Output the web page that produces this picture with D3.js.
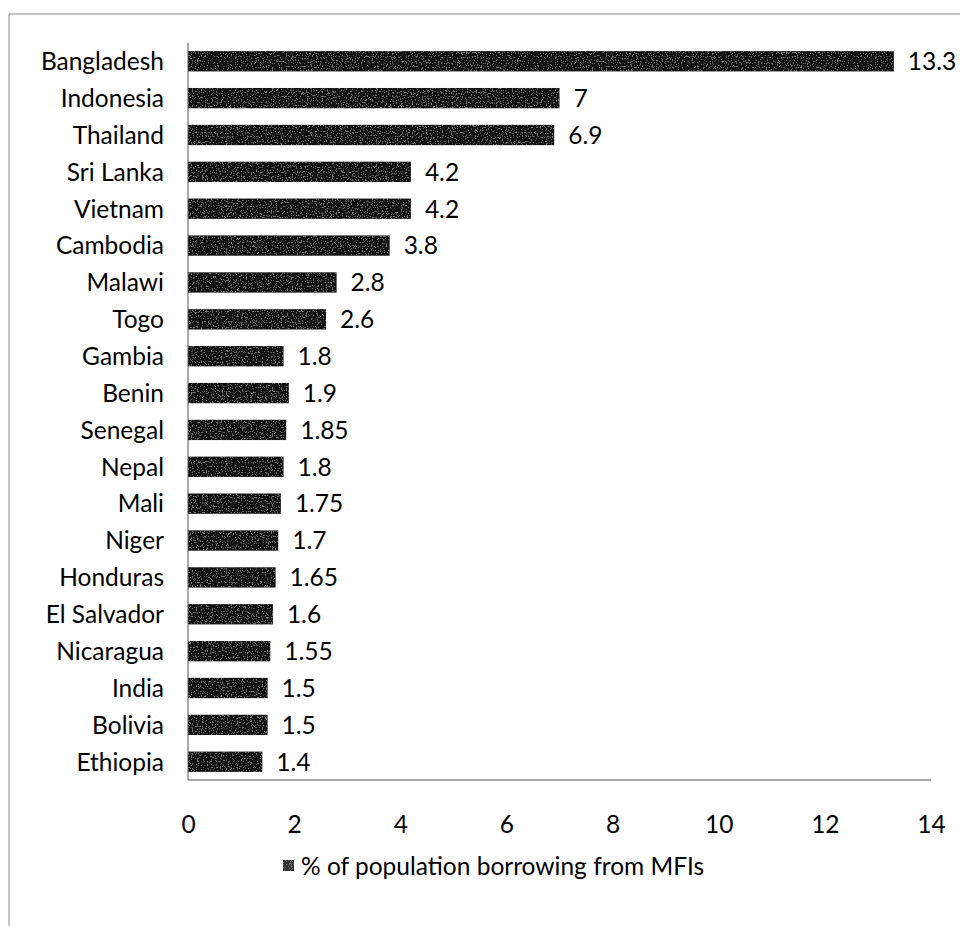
<!DOCTYPE html>
<html>
<head>
<meta charset="utf-8">
<script src="https://cdn.jsdelivr.net/npm/d3@7"></script>
<style>
  html, body { margin: 0; padding: 0; background: #fff; }
  svg { display: block; }
  svg text { font-family: Lato, "Open Sans", sans-serif; }
</style>
</head>
<body>
<svg id="chart" width="960" height="926"></svg>
<script>
// Share of population borrowing from microfinance institutions, by country
const countries = ["Bangladesh", "Indonesia", "Thailand", "Sri Lanka", "Vietnam", "Cambodia",
  "Malawi", "Togo", "Gambia", "Benin", "Senegal", "Nepal", "Mali", "Niger", "Honduras",
  "El Salvador", "Nicaragua", "India", "Bolivia", "Ethiopia"];
const shares = [13.3, 7, 6.9, 4.2, 4.2, 3.8, 2.8, 2.6, 1.8, 1.9, 1.85, 1.8, 1.75, 1.7, 1.65,
  1.6, 1.55, 1.5, 1.5, 1.4];
const xTicks = [0, 2, 4, 6, 8, 10, 12, 14];
const seriesName = "% of population borrowing from MFIs";

const FONT = 24.5;
const svg = d3.select("#chart");

const plot = { left: 188, right: 931, top: 43, bottom: 780 };

const x = d3.scaleLinear().domain([0, 14]).range([plot.left, plot.right]);
const y = d3.scaleBand().domain(countries).range([plot.top, plot.bottom]).paddingInner(0.45).paddingOuter(0.22);

// sparse grey specks over the dark bar ink
const defs = svg.append("defs");
const grain = defs.append("filter").attr("id", "grain")
  .attr("x", 0).attr("y", 0).attr("width", 1).attr("height", 1)
  .attr("color-interpolation-filters", "sRGB");
grain.append("feTurbulence").attr("type", "fractalNoise").attr("baseFrequency", 0.8)
  .attr("numOctaves", 2).attr("seed", 7).attr("result", "noise");
grain.append("feColorMatrix").attr("in", "noise").attr("type", "matrix")
  .attr("values", "0 0 0 0 0.45  0 0 0 0 0.45  0 0 0 0 0.45  0 0 0 -10 4.3").attr("result", "specks");
grain.append("feComposite").attr("in", "specks").attr("in2", "SourceGraphic").attr("operator", "in").attr("result", "clipped");
grain.append("feMerge").selectAll("feMergeNode").data(["SourceGraphic", "clipped"]).join("feMergeNode").attr("in", d => d);

// chart frame (top and left edges)
svg.append("path")
  .attr("d", "M9,926 V14 H960")
  .attr("fill", "none").attr("stroke", "#8a8a8a").attr("stroke-width", 1);

// bars
svg.append("g").selectAll("rect").data(countries).join("rect")
  .attr("x", x(0))
  .attr("y", d => y(d))
  .attr("width", (d, i) => x(shares[i]) - x(0))
  .attr("height", y.bandwidth())
  .attr("fill", "#121212")
  .attr("filter", "url(#grain)");

// value labels
svg.append("g").selectAll("text").data(countries).join("text")
  .attr("x", (d, i) => x(shares[i]) + 14)
  .attr("y", d => y(d) + y.bandwidth() / 2)
  .attr("dy", "0.36em")
  .attr("font-size", FONT)
  .attr("fill", "#000")
  .text((d, i) => shares[i]);

// category axis
const yAxis = svg.append("g").attr("transform", `translate(${x(0)},0)`)
  .call(d3.axisLeft(y).tickSize(0).tickPadding(24));
yAxis.attr("font-family", null).attr("font-size", FONT);
yAxis.select(".domain").attr("d", `M0,${plot.top}V${plot.bottom}`).attr("stroke", "#555");
yAxis.selectAll("text").attr("fill", "#000").attr("dy", "0.36em");

// value axis baseline
svg.append("line")
  .attr("x1", x(0)).attr("x2", x(14))
  .attr("y1", plot.bottom).attr("y2", plot.bottom)
  .attr("stroke", "#555");

// value axis tick labels
const xAxis = svg.append("g").attr("transform", `translate(0,${plot.bottom})`)
  .call(d3.axisBottom(x).tickValues(xTicks).tickSize(0).tickPadding(36).tickFormat(d3.format("d")));
xAxis.attr("font-family", null).attr("font-size", FONT);
xAxis.select(".domain").remove();
xAxis.selectAll("text").attr("fill", "#000");

// legend
const legend = svg.append("g").attr("transform", "translate(283,866)");
legend.append("rect").attr("x", 0).attr("y", -6).attr("width", 11).attr("height", 11)
  .attr("fill", "#333").attr("filter", "url(#grain)");
legend.append("text").attr("x", 18).attr("dy", "0.36em")
  .attr("font-size", FONT).attr("fill", "#000").text(seriesName);
</script>
</body>
</html>
